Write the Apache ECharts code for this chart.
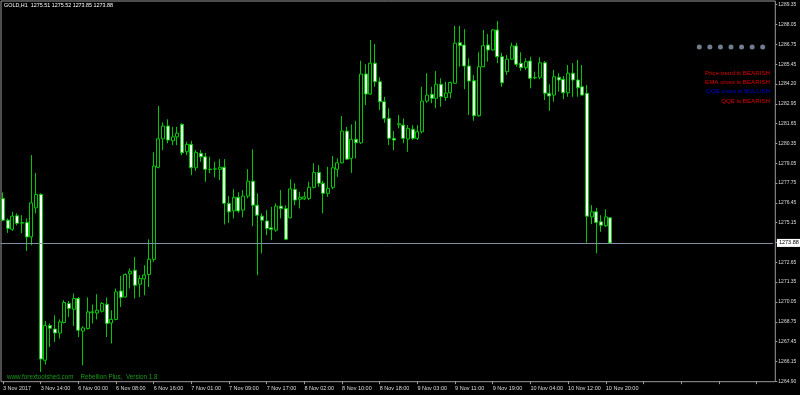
<!DOCTYPE html>
<html>
<head>
<meta charset="utf-8">
<script src="https://cdn.jsdelivr.net/npm/echarts@6/dist/echarts.min.js"></script>
<style>
html,body{margin:0;padding:0;background:#000;}
#chart{width:800px;height:395px;}
</style>
</head>
<body>
<div id="chart"></div>
<script>
const times = [
'3 Nov 06:00','3 Nov 07:00','3 Nov 08:00','3 Nov 09:00','3 Nov 10:00','3 Nov 11:00','3 Nov 12:00','3 Nov 13:00',
'3 Nov 14:00','3 Nov 15:00','3 Nov 16:00','3 Nov 17:00','3 Nov 18:00','3 Nov 19:00','3 Nov 20:00','3 Nov 21:00',
'6 Nov 00:00','6 Nov 01:00','6 Nov 02:00','6 Nov 03:00','6 Nov 04:00','6 Nov 05:00','6 Nov 06:00','6 Nov 07:00',
'6 Nov 08:00','6 Nov 09:00','6 Nov 10:00','6 Nov 11:00','6 Nov 12:00','6 Nov 13:00','6 Nov 14:00','6 Nov 15:00',
'6 Nov 16:00','6 Nov 17:00','6 Nov 18:00','6 Nov 19:00','6 Nov 20:00','6 Nov 21:00','6 Nov 22:00','6 Nov 23:00',
'7 Nov 01:00','7 Nov 02:00','7 Nov 03:00','7 Nov 04:00','7 Nov 05:00','7 Nov 06:00','7 Nov 07:00','7 Nov 08:00',
'7 Nov 09:00','7 Nov 10:00','7 Nov 11:00','7 Nov 12:00','7 Nov 13:00','7 Nov 14:00','7 Nov 15:00','7 Nov 16:00',
'7 Nov 17:00','7 Nov 18:00','7 Nov 19:00','7 Nov 20:00','7 Nov 21:00','7 Nov 22:00','7 Nov 23:00','8 Nov 01:00',
'8 Nov 02:00','8 Nov 03:00','8 Nov 04:00','8 Nov 05:00','8 Nov 06:00','8 Nov 07:00','8 Nov 08:00','8 Nov 09:00',
'8 Nov 10:00','8 Nov 11:00','8 Nov 12:00','8 Nov 13:00','8 Nov 14:00','8 Nov 15:00','8 Nov 16:00','8 Nov 17:00',
'8 Nov 18:00','8 Nov 19:00','8 Nov 20:00','8 Nov 21:00','8 Nov 22:00','8 Nov 23:00','9 Nov 01:00','9 Nov 02:00',
'9 Nov 03:00','9 Nov 04:00','9 Nov 05:00','9 Nov 06:00','9 Nov 07:00','9 Nov 08:00','9 Nov 09:00','9 Nov 10:00',
'9 Nov 11:00','9 Nov 12:00','9 Nov 13:00','9 Nov 14:00','9 Nov 15:00','9 Nov 16:00','9 Nov 17:00','9 Nov 18:00',
'9 Nov 19:00','9 Nov 20:00','9 Nov 21:00','9 Nov 22:00','9 Nov 23:00','10 Nov 01:00','10 Nov 02:00','10 Nov 03:00',
'10 Nov 04:00','10 Nov 05:00','10 Nov 06:00','10 Nov 07:00','10 Nov 08:00','10 Nov 09:00','10 Nov 10:00','10 Nov 11:00',
'10 Nov 12:00','10 Nov 13:00','10 Nov 14:00','10 Nov 15:00','10 Nov 16:00','10 Nov 17:00','10 Nov 18:00','10 Nov 19:00',
'10 Nov 20:00','10 Nov 21:00'
];
const opens = [
1276.77,1275.36,1274.76,1275.64,1275.16,1275.21,1274.27,1276.16,1277.03,1266.26,
1268.52,1268.29,1268.03,1268.71,1269.95,1269.57,1270.27,1268.16,1268.32,1269.35,
1269.33,1269.44,1269.90,1268.68,1268.91,1270.76,1270.37,1271.87,1272.11,1271.20,
1271.54,1271.83,1272.81,1278.79,1280.64,1281.47,1280.51,1280.77,1281.58,1279.80,
1280.28,1278.76,1279.70,1279.47,1278.64,1278.67,1278.66,1278.79,1276.45,1275.96,
1276.84,1276.01,1276.92,1277.89,1276.33,1275.62,1275.31,1274.86,1274.71,1276.27,
1276.12,1275.51,1277.36,1276.71,1276.74,1276.77,1277.49,1278.46,1277.75,1277.10,
1277.49,1278.66,1279.08,1281.14,1279.37,1280.61,1280.38,1284.85,1283.55,1285.55,
1284.35,1283.05,1281.97,1280.67,1281.55,1281.53,1280.62,1281.26,1280.67,1281.10,
1283.09,1283.53,1283.27,1284.18,1283.32,1283.63,1284.25,1286.88,1286.73,1285.37,
1284.41,1282.14,1285.32,1286.73,1286.41,1287.71,1285.97,1285.00,1285.81,1286.67,
1285.55,1285.26,1285.69,1284.60,1284.64,1285.58,1283.60,1283.48,1284.64,1284.51,
1283.63,1284.90,1284.46,1284.02,1283.60,1275.57,1275.90,1275.25,1274.99,1275.51
];
const closes = [
1275.36,1274.82,1275.62,1275.15,1275.20,1274.27,1276.48,1277.03,1266.34,1268.52,
1268.34,1268.03,1268.75,1270.01,1269.62,1270.27,1268.21,1268.36,1269.40,1269.40,
1269.51,1269.95,1268.65,1268.91,1270.70,1270.34,1271.83,1272.04,1271.13,1271.57,
1271.80,1272.82,1278.87,1280.64,1281.47,1280.56,1280.77,1281.00,1279.73,1280.28,
1278.76,1279.76,1279.47,1278.66,1278.67,1278.69,1278.79,1276.45,1275.90,1276.84,
1275.96,1276.92,1277.89,1276.33,1275.68,1275.36,1274.82,1274.76,1276.27,1276.12,
1274.12,1277.39,1276.66,1276.84,1276.87,1277.49,1278.46,1277.75,1277.10,1277.42,
1278.76,1279.08,1281.14,1279.32,1280.61,1280.38,1284.85,1283.55,1285.55,1284.35,
1283.05,1281.97,1280.67,1280.56,1281.62,1280.67,1281.32,1280.67,1281.10,1283.09,
1283.48,1283.27,1284.18,1283.37,1283.61,1284.30,1286.85,1286.69,1285.37,1284.39,
1282.14,1285.32,1286.69,1286.41,1287.71,1285.97,1284.28,1285.81,1286.67,1285.48,
1285.26,1285.65,1284.57,1284.62,1285.58,1283.60,1283.42,1284.67,1284.46,1283.63,
1284.90,1284.46,1283.96,1283.48,1275.62,1275.90,1275.21,1275.03,1275.57,1273.88
];
const lows = [
1275.29,1274.53,1274.66,1275.02,1274.51,1273.36,1273.73,1275.80,1265.50,1265.98,
1267.12,1267.45,1267.67,1268.65,1269.07,1268.49,1267.77,1265.93,1268.26,1268.65,
1268.91,1269.36,1267.77,1267.35,1268.86,1269.72,1270.34,1270.92,1270.27,1270.37,
1270.48,1271.02,1272.65,1278.72,1279.91,1280.35,1280.23,1280.23,1279.58,1279.58,
1278.28,1278.56,1279.15,1277.85,1278.40,1278.14,1277.96,1275.08,1275.18,1275.47,
1275.83,1275.54,1276.77,1274.97,1271.78,1273.20,1274.38,1274.06,1274.60,1275.47,
1274.06,1275.47,1276.33,1276.12,1276.66,1276.66,1277.42,1277.52,1275.80,1276.87,
1277.36,1278.17,1279.05,1279.26,1278.43,1279.37,1280.30,1282.83,1283.48,1284.02,
1282.51,1281.68,1280.23,1279.91,1281.32,1280.35,1279.80,1280.56,1280.56,1281.00,
1282.98,1282.95,1282.62,1282.72,1283.11,1283.27,1284.20,1285.32,1283.86,1282.18,
1281.81,1282.07,1285.29,1285.65,1286.36,1285.55,1284.02,1284.78,1285.76,1285.32,
1285.06,1285.11,1283.92,1284.51,1284.51,1283.16,1282.46,1283.05,1283.70,1283.21,
1283.37,1283.37,1283.37,1283.45,1273.90,1275.10,1273.20,1274.60,1274.92,1273.85
];
const highs = [
1277.16,1275.47,1275.90,1275.80,1275.68,1275.47,1279.58,1278.43,1277.11,1268.81,
1268.65,1269.18,1268.91,1270.16,1270.11,1270.60,1270.37,1268.47,1270.34,1269.88,
1270.55,1270.05,1270.34,1269.51,1270.92,1271.74,1271.90,1272.22,1272.97,1271.78,
1272.43,1274.11,1279.76,1282.77,1281.71,1281.91,1281.42,1281.42,1281.65,1280.45,
1280.51,1279.91,1279.91,1279.73,1279.47,1279.15,1279.32,1279.32,1276.92,1277.37,
1277.16,1277.31,1278.67,1279.96,1277.10,1275.80,1276.01,1276.22,1276.45,1277.31,
1276.33,1278.01,1277.75,1277.20,1277.20,1277.85,1279.05,1278.93,1277.91,1278.82,
1279.52,1279.37,1282.12,1281.42,1281.58,1281.81,1285.71,1285.48,1287.06,1286.80,
1284.64,1283.37,1282.62,1281.14,1282.18,1281.97,1281.53,1281.53,1281.53,1284.02,
1284.90,1284.02,1285.04,1284.57,1284.35,1284.35,1287.97,1287.97,1287.76,1285.87,
1284.78,1286.26,1287.71,1287.45,1287.76,1288.29,1286.23,1286.08,1286.88,1286.88,
1286.26,1285.87,1285.97,1285.00,1285.94,1285.69,1284.18,1285.11,1284.90,1284.72,
1285.43,1285.55,1285.76,1285.43,1284.13,1276.33,1276.16,1275.68,1276.06,1275.52
];
const xTickLabels = ['3 Nov 2017','3 Nov 14:00','6 Nov 00:00','6 Nov 08:00','6 Nov 16:00','7 Nov 01:00',
'7 Nov 09:00','7 Nov 17:00','8 Nov 02:00','8 Nov 10:00','8 Nov 18:00','9 Nov 03:00','9 Nov 11:00',
'9 Nov 19:00','10 Nov 04:00','10 Nov 12:00','10 Nov 20:00'];
const yTickLabels = ['1264.90','1266.15','1267.45','1268.75','1270.05','1271.35','1272.65','',
'1275.15','1276.45','1277.75','1279.05','1280.35','1281.65','1282.95','1284.20','1285.45',
'1286.75','1288.05','1289.35'];
const currentPrice = 1273.88;
const headerText = 'GOLD,H1  1275.51 1275.52 1273.85 1273.88';
const footerText = 'www.forextoolshed.com    Rebellion Plus,  Version 1.8';
const timeframes = ['M1','M5','M15','M30','H1','H4','D1'];
const signals = [
  {text:'Price trend is BEARISH', color:'#e00000'},
  {text:'EMA cross is BEARISH', color:'#e00000'},
  {text:'QQE cross is BULLISH', color:'#0000e0'},
  {text:'QQE is BEARISH', color:'#e00000'}
];

const TOTAL_SLOTS = 164;
const cats = times.concat(new Array(TOTAL_SLOTS - times.length).fill(''));
const ohlc = opens.map((o, i) => [o, closes[i], lows[i], highs[i]]);
const FONT = 'Liberation Sans';

const chart = echarts.init(document.getElementById('chart'), null, {renderer: 'canvas'});
const graphics = [
  {type:'text', left:4, top:3, style:{text:headerText, fill:'#ffffff', font:'5.4px "Liberation Sans"'}},
  {type:'text', left:7, top:374, style:{text:footerText, fill:'#1a9c1a', font:'6.3px "Liberation Sans"'}}
];
signals.forEach((s, i) => {
  graphics.push({type:'text', right:30, top:70 + i * 9.3,
    style:{text:s.text, fill:s.color, font:'6.2px "Liberation Sans"', textAlign:'right'}});
});

chart.setOption({
  backgroundColor: '#000000',
  animation: false,
  grid: [
    {left: 0, top: 4.7, width: TOTAL_SLOTS * 4.713, height: 376.5, show: false},
    {left: 1, top: 1, width: 774.3, height: 380.7, show: true, borderColor: '#9a9a9a', borderWidth: 1, backgroundColor: 'transparent'},
    {left: 694, top: 42, width: 74, height: 10, show: false}
  ],
  xAxis: [
    {type: 'category', gridIndex: 0, data: cats, boundaryGap: true,
      axisLine: {show: false},
      axisTick: {show: true, interval: 7, alignWithLabel: true, length: 3, lineStyle: {color: '#9a9a9a'}},
      axisLabel: {interval: 7, color: '#dddddd', fontSize: 5.5, fontFamily: FONT, align: 'left', margin: 4,
        formatter: (v, i) => xTickLabels[i / 8] || ''},
      splitLine: {show: false}},
    {type: 'value', gridIndex: 1, show: false},
    {type: 'category', gridIndex: 2, data: timeframes, show: false}
  ],
  yAxis: [
    {type: 'value', gridIndex: 0, min: 1264.90, max: 1289.35, position: 'right', show: false, scale: true},
    {type: 'category', gridIndex: 0, data: yTickLabels, boundaryGap: false, position: 'right', offset: 2.4,
      axisLine: {show: false},
      axisTick: {show: true, length: 2, lineStyle: {color: '#9a9a9a'}},
      axisLabel: {color: '#dddddd', fontSize: 5, fontFamily: FONT, margin: 3},
      splitLine: {show: false}},
    {type: 'value', gridIndex: 1, show: false},
    {type: 'value', gridIndex: 2, show: false, min: -1, max: 1}
  ],
  series: [
    {
      type: 'candlestick', xAxisIndex: 0, yAxisIndex: 0, data: ohlc, barWidth: 3.5,
      itemStyle: {color: '#000000', color0: '#ffffff', borderColor: '#00c800', borderColor0: '#00c800',
        borderColorDoji: '#00c800', borderWidth: 1},
      markLine: {
        silent: true, symbol: ['none', 'none'], animation: false,
        lineStyle: {color: '#7f8fa0', type: 'solid', width: 1},
        label: {position: 'end', distance: 4, formatter: () => currentPrice.toFixed(2),
          color: '#000000', backgroundColor: '#ffffff', fontSize: 5.5, fontFamily: FONT, padding: [1, 2, 1, 2]},
        data: [{yAxis: currentPrice}]
      }
    },
    {
      type: 'scatter', xAxisIndex: 2, yAxisIndex: 3, data: timeframes.map(() => 0),
      symbolSize: 5, itemStyle: {color: '#8d9db0'}, silent: true
    }
  ],
  graphic: graphics
});
</script>
</body>
</html>
